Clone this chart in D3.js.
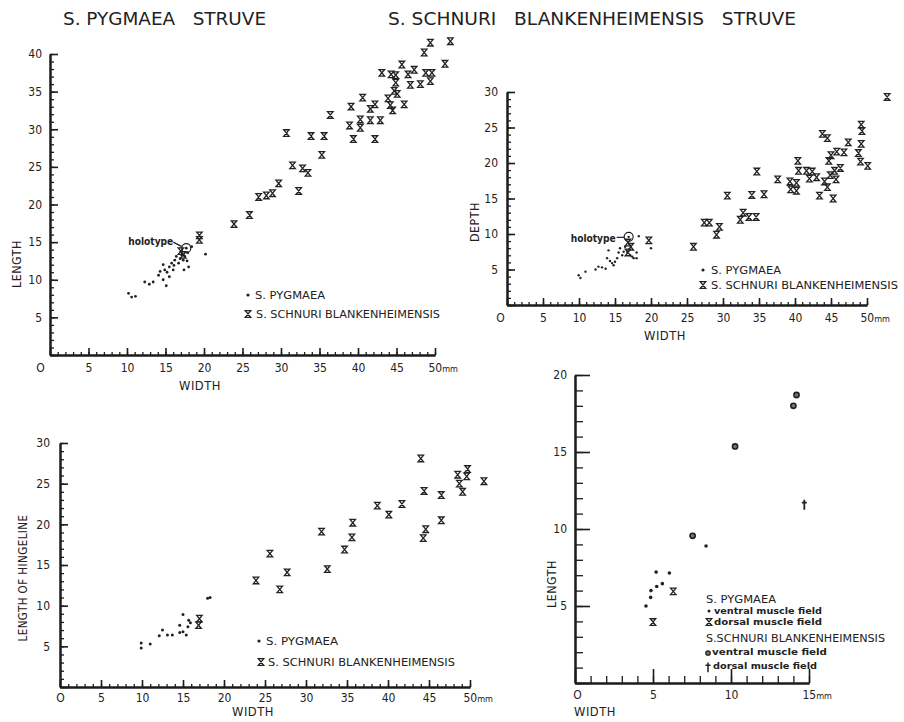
<!DOCTYPE html>
<html>
<head>
<meta charset="utf-8">
<script src="https://cdn.jsdelivr.net/npm/d3@7"></script>
<style>
  body { margin: 0; background: #fff; }
  svg text { font-family: "DejaVu Sans Condensed", "Liberation Sans Narrow", sans-serif; fill: #222; }
</style>
</head>
<body>
<svg width="904" height="722"></svg>
<script>
// --- top left: length against width (mm)
var lwPygmaea = [[10.2,8.2],[10.6,7.7],[11.1,7.8],[12.3,9.7],[12.9,9.4],[13.4,9.7],[14.1,10.6],[14.3,11.1],
  [14.7,12.0],[14.9,11.3],[14.7,10.0],[15.1,9.2],[15.5,11.7],[15.8,12.2],[16.0,11.3],[15.5,10.4],[16.2,12.6],
  [16.4,13.1],[16.7,12.2],[16.9,12.8],[17.1,13.3],[17.3,12.6],[17.5,13.1],[17.8,12.5],[17.4,11.3],[18.0,11.7],
  [18.4,14.4],[20.2,13.4],[17.7,14.2],[17.9,13.6],[16.1,11.9],[15.2,11.0]];
var lwSchnuri = [[17.0,13.8],[17.3,13.3],[19.4,15.9],[19.4,15.3],[23.9,17.4],[25.9,18.6],[27.1,21.0],[28.1,21.2],
  [28.9,21.5],[29.7,22.8],[32.3,21.8],[31.5,25.2],[32.8,24.8],[33.5,24.2],[30.7,29.5],[35.3,26.6],[33.9,29.1],
  [35.6,29.1],[36.4,31.9],[39.1,33.0],[38.9,30.5],[39.4,28.7],[40.3,31.3],[40.3,30.2],[40.6,34.2],[41.6,32.7],
  [42.2,33.3],[41.6,31.2],[42.9,31.2],[42.2,28.7],[43.1,37.5],[44.3,37.3],[44.9,37.2],[44.9,36.2],[44.7,35.1],
  [45.1,34.7],[43.9,34.1],[44.2,33.2],[44.5,32.5],[46.0,33.3],[45.7,38.6],[46.5,37.3],[47.3,37.9],[46.8,35.9],
  [48.1,36.0],[48.8,37.5],[49.6,37.5],[49.4,36.4],[48.6,40.2],[49.4,41.5],[52.0,41.7],[51.3,38.7]];
var lwHolotype = [17.7, 14.2];

// --- top right: depth against width
var dwPygmaea = [[9.95,4.2],[10.2,3.8],[10.9,4.7],[12.3,5.0],[12.7,5.4],[13.2,5.3],[13.7,5.1],[14.1,7.7],
  [13.9,6.6],[14.3,6.2],[14.6,5.9],[14.8,5.6],[15.0,6.1],[15.3,6.6],[15.5,7.4],[15.7,8.0],[16.0,7.0],[16.2,7.5],
  [16.4,8.2],[16.7,7.5],[17.1,7.0],[17.4,6.8],[17.6,6.6],[18.0,7.4],[18.0,6.6],[18.3,9.7],[20.0,8.0],[16.9,9.6]];
var dwSchnuri = [[16.8,8.8],[17.2,8.2],[16.8,7.4],[19.7,9.1],[25.9,8.2],[27.4,11.6],[28.1,11.6],[29.1,9.9],
  [29.5,11.0],[30.6,15.4],[32.4,12.0],[32.8,13.0],[33.6,12.4],[34.6,12.4],[34.0,15.5],[35.7,15.6],[34.7,18.8],
  [37.6,17.7],[39.3,17.4],[40.2,17.2],[39.4,16.3],[40.2,16.1],[40.4,20.3],[40.5,18.9],[41.6,18.9],[42.0,17.8],
  [42.4,18.8],[43.0,18.0],[43.4,15.4],[43.8,24.1],[44.5,23.5],[44.1,17.4],[44.5,16.6],[44.7,20.3],[45.0,21.1],
  [44.9,18.3],[45.5,18.9],[45.7,17.7],[45.3,15.0],[45.8,21.6],[46.3,19.3],[46.8,21.5],[47.4,22.9],[48.8,21.4],
  [49.2,25.4],[49.3,24.5],[49.2,22.7],[49.1,20.2],[50.1,19.6],[52.8,29.3]];
var dwHolotype = [16.9, 9.6];

// --- bottom left: length of hingeline against width
var hwPygmaea = [[9.9,5.4],[9.9,4.8],[11.0,5.3],[12.1,6.3],[12.5,7.0],[13.1,6.4],[13.7,6.4],[14.6,6.7],
  [15.0,6.8],[14.6,7.6],[15.0,8.9],[15.4,6.4],[15.6,7.4],[15.7,8.2],[15.9,7.9],[18.0,10.9],[18.3,11.0]];
var hwSchnuri = [[17.0,8.4],[16.9,7.6],[23.9,13.1],[25.6,16.4],[26.8,12.0],[27.7,14.1],[31.9,19.1],[32.6,14.5],
  [34.7,16.9],[35.6,18.4],[35.7,20.2],[38.7,22.3],[40.1,21.2],[41.7,22.5],[44.0,28.1],[44.4,24.1],[44.6,19.4],
  [44.3,18.3],[46.5,23.6],[46.5,20.5],[48.5,26.1],[48.7,25.0],[49.1,24.0],[49.7,26.8],[49.6,25.9],[51.7,25.3]];

// --- bottom right: muscle fields, length against width
var mfPygVentral = [[4.55,5.0],[4.85,5.56],[4.87,6.0],[5.2,7.2],[5.24,6.27],[5.6,6.45],[6.05,7.14],[8.4,8.9]];
var mfPygDorsal = [[5.0,3.96],[6.3,5.95]];
var mfSchVentral = [[7.54,9.56],[10.26,15.36],[14.0,18.0],[14.2,18.7]];
var mfSchDorsal = [[14.7,11.6]];

// tick labels
var widthTicks = [0,5,10,15,20,25,30,35,40,45,50];
var lengthTicks = [5,10,15,20,25,30,35,40];
var depthTicks = [5,10,15,20,25,30];
var hingeTicks = [5,10,15,20,25,30];
var mfWidthTicks = [0,5,10,15];
var mfLengthTicks = [5,10,15,20];

var svg = d3.select("svg");
var markLayer = svg.append("g");
var axisLayer = svg.append("g");

var crossType = { draw: function(ctx, size) {
  var w = Math.sqrt(size) / 2, h = w * 1.2;
  ctx.moveTo(-w, -h); ctx.lineTo(w, -h); ctx.lineTo(-w, h); ctx.lineTo(w, h); ctx.closePath();
}};
var daggerType = { draw: function(ctx, size) {
  var s = Math.sqrt(size) / 2;
  ctx.moveTo(0, -s * 1.3); ctx.lineTo(0, s * 1.5);
  ctx.moveTo(-s * 0.7, -s * 0.5); ctx.lineTo(s * 0.7, -s * 0.5);
}};
var crossPath = d3.symbol().type(crossType).size(30)();
var daggerPath = d3.symbol().type(daggerType).size(50)();

function styleTicks(s, attr, len, width) {
  s.select(".domain").attr("stroke", "#1c1c1c").attr("stroke-width", 2);
  s.selectAll(".tick line").attr(attr, len).attr("stroke", "#1c1c1c").attr("stroke-width", width);
}

function drawAxes(x, y, o) {
  var xMax = x.domain()[1], yMax = y.domain()[1];
  var g = axisLayer.append("g");
  [[1, o.minor, 1.3], [5, o.major, 1.6]].forEach(function(t) {
    g.append("g").attr("transform", "translate(" + x(0) + ",0)")
      .call(d3.axisRight(y).tickValues(d3.range(0, yMax + 0.5, t[0])).tickSize(t[1]).tickSizeOuter(0).tickFormat(""))
      .call(styleTicks, "x2", t[1], t[2]);
    g.append("g").attr("transform", "translate(0," + y(0) + ")")
      .call(d3.axisTop(x).tickValues(d3.range(0, xMax + 0.5, t[0])).tickSize(t[1]).tickSizeOuter(0).tickFormat(""))
      .call(styleTicks, "y2", -t[1] + 1, t[2]);
  });
  g.append("g").attr("transform", "translate(" + x(0) + ",0)")
    .call(d3.axisLeft(y).tickValues(o.yTicks).tickSize(0).tickPadding(o.yPad))
    .attr("font-size", 12).attr("font-family", null)
    .call(function(s) { s.select(".domain").remove(); });
  g.append("g").attr("transform", "translate(0," + y(0) + ")")
    .call(d3.axisBottom(x).tickValues(o.xTicks).tickSize(0).tickPadding(o.xPad)
      .tickFormat(function(d) { return d === 0 ? "O" : d; }))
    .attr("font-size", 12).attr("font-family", null)
    .call(function(s) {
      s.select(".domain").remove();
      s.selectAll(".tick text").filter(function(d) { return d === 0; }).attr("dx", o.zeroDx);
      s.selectAll(".tick text").filter(function(d) { return d === xMax; })
        .attr("text-anchor", "start").attr("x", -7)
        .append("tspan").attr("font-size", 9).text("mm");
    });
}

function label(txt, cx, cy, len, rot, size) {
  markLayer.append("text")
    .attr("transform", "translate(" + cx + "," + cy + ")" + (rot ? " rotate(-90)" : ""))
    .attr("text-anchor", "middle").attr("dy", "0.35em")
    .attr("font-size", size || 12).attr("letter-spacing", 0.5)
    .attr("textLength", len).attr("lengthAdjust", "spacingAndGlyphs")
    .text(txt);
}

function legendText(txt, x0, cy, len, size, weight) {
  markLayer.append("text").attr("x", x0).attr("y", cy).attr("dy", "0.35em")
    .attr("font-size", size || 11).attr("font-weight", weight || "normal")
    .attr("textLength", len).attr("lengthAdjust", "spacingAndGlyphs").text(txt);
}

function dots(data, x, y, r) {
  markLayer.append("g").selectAll("circle").data(data).join("circle")
    .attr("cx", function(d) { return x(d[0]); }).attr("cy", function(d) { return y(d[1]); })
    .attr("r", r).attr("fill", "#222");
}

function crosses(data, x, y, p, sw) {
  markLayer.append("g").selectAll("path").data(data).join("path")
    .attr("d", p || crossPath).attr("fill", "none").attr("stroke", "#222").attr("stroke-width", sw || 1.3)
    .attr("transform", function(d) { return "translate(" + x(d[0]) + "," + y(d[1]) + ")"; });
}

function at(v) { return function() { return v; }; }

// titles
markLayer.append("text").attr("x", 63).attr("y", 25).attr("font-size", 18)
  .attr("textLength", 203).attr("lengthAdjust", "spacingAndGlyphs")
  .text("S. PYGMAEA \u00a0 STRUVE");
markLayer.append("text").attr("x", 388).attr("y", 25).attr("font-size", 18)
  .attr("textLength", 408).attr("lengthAdjust", "spacingAndGlyphs")
  .text("S. SCHNURI \u00a0 BLANKENHEIMENSIS \u00a0 STRUVE");

// panel 1
var x1 = d3.scaleLinear().domain([0, 50]).range([50, 435]);
var y1 = d3.scaleLinear().domain([0, 40]).range([355, 54]);
dots(lwPygmaea, x1, y1, 1.4);
crosses(lwSchnuri, x1, y1);
markLayer.append("circle").attr("cx", x1(lwHolotype[0])).attr("cy", y1(lwHolotype[1])).attr("r", 4.5)
  .attr("fill", "none").attr("stroke", "#222").attr("stroke-width", 1.2);
markLayer.append("line").attr("x1", x1(lwHolotype[0]) - 13).attr("y1", y1(lwHolotype[1]) - 6)
  .attr("x2", x1(lwHolotype[0]) - 4.5).attr("y2", y1(lwHolotype[1]) - 1.5)
  .attr("stroke", "#222").attr("stroke-width", 1.2);
legendText("holotype", x1(lwHolotype[0]) - 58, y1(lwHolotype[1]) - 7, 45, 11, "bold");
label("LENGTH", 17, 264, 48, true);
label("WIDTH", 200, 386, 42);
dots([[0, 0]], at(248), at(295), 1.6);
crosses([[0, 0]], at(248), at(314));
legendText("S. PYGMAEA", 255, 295, 70);
legendText("S. SCHNURI  BLANKENHEIMENSIS", 256, 314, 184);

// panel 2
var x2 = d3.scaleLinear().domain([0, 50]).range([507, 867]);
var y2 = d3.scaleLinear().domain([0, 30]).range([305, 92]);
dots(dwPygmaea, x2, y2, 1.2);
crosses(dwSchnuri, x2, y2);
markLayer.append("circle").attr("cx", x2(dwHolotype[0])).attr("cy", y2(dwHolotype[1])).attr("r", 4.5)
  .attr("fill", "none").attr("stroke", "#222").attr("stroke-width", 1.2);
markLayer.append("line").attr("x1", x2(dwHolotype[0]) - 12).attr("y1", y2(dwHolotype[1]) + 0.5)
  .attr("x2", x2(dwHolotype[0]) - 4.5).attr("y2", y2(dwHolotype[1]) + 0.5)
  .attr("stroke", "#222").attr("stroke-width", 1.2);
legendText("holotype", x2(dwHolotype[0]) - 58, y2(dwHolotype[1]) + 1, 45, 11, "bold");
label("DEPTH", 475, 222, 40, true);
label("WIDTH", 665, 336, 42);
dots([[0, 0]], at(703), at(270), 1.6);
crosses([[0, 0]], at(703), at(285));
legendText("S. PYGMAEA", 711, 270, 70);
legendText("S. SCHNURI  BLANKENHEIMENSIS", 711, 285, 187);

// panel 3
var x3 = d3.scaleLinear().domain([0, 50]).range([60, 470]);
var y3 = d3.scaleLinear().domain([0, 30]).range([687, 443]);
dots(hwPygmaea, x3, y3, 1.5);
crosses(hwSchnuri, x3, y3);
label("LENGTH OF HINGELINE", 23, 578, 127, true);
label("WIDTH", 253, 712, 42);
dots([[0, 0]], at(259), at(641), 1.6);
crosses([[0, 0]], at(261), at(662));
legendText("S. PYGMAEA", 266, 641, 72);
legendText("S. SCHNURI  BLANKENHEIMENSIS", 268, 662, 187);

// panel 4
var x4 = d3.scaleLinear().domain([0, 15]).range([575, 809]);
var y4 = d3.scaleLinear().domain([0, 20]).range([683, 375]);
dots(mfPygVentral, x4, y4, 1.8);
crosses(mfPygDorsal, x4, y4);
markLayer.append("g").selectAll("circle").data(mfSchVentral).join("circle")
  .attr("cx", function(d) { return x4(d[0]); }).attr("cy", function(d) { return y4(d[1]); })
  .attr("r", 2.6).attr("fill", "#777").attr("stroke", "#222").attr("stroke-width", 1.6);
crosses(mfSchDorsal, x4, y4, daggerPath, 1.8);
label("LENGTH", 552, 584, 48, true);
label("WIDTH", 595, 712, 42);
legendText("S. PYGMAEA", 706, 599, 70, 11);
dots([[0, 0]], at(709), at(611), 1.5);
legendText("ventral  muscle  field", 714, 611, 108, 9.5, "bold");
crosses([[0, 0]], at(709), at(622));
legendText("dorsal  muscle  field", 714, 622, 108, 9.5, "bold");
legendText("S.SCHNURI  BLANKENHEIMENSIS", 706, 638, 179, 11);
markLayer.append("circle").attr("cx", 708).attr("cy", 653).attr("r", 2.2)
  .attr("fill", "#777").attr("stroke", "#222").attr("stroke-width", 1.3);
legendText("ventral  muscle  field", 712, 652, 115, 9.5, "bold");
crosses([[0, 0]], at(708), at(667), daggerPath, 1.5);
legendText("dorsal  muscle  field", 713, 666, 104, 9.5, "bold");

// axes last
drawAxes(x1, y1, {minor: 4, major: 8, yTicks: lengthTicks, yPad: 8, xTicks: widthTicks, xPad: 8, zeroDx: -10});
drawAxes(x2, y2, {minor: 4, major: 8, yTicks: depthTicks, yPad: 9, xTicks: widthTicks, xPad: 8, zeroDx: -7});
drawAxes(x3, y3, {minor: 4, major: 8, yTicks: hingeTicks, yPad: 10, xTicks: widthTicks, xPad: 6, zeroDx: 0});
drawAxes(x4, y4, {minor: 8, major: 15, yTicks: mfLengthTicks, yPad: 8, xTicks: mfWidthTicks, xPad: 7, zeroDx: 2});
</script>
</body>
</html>
